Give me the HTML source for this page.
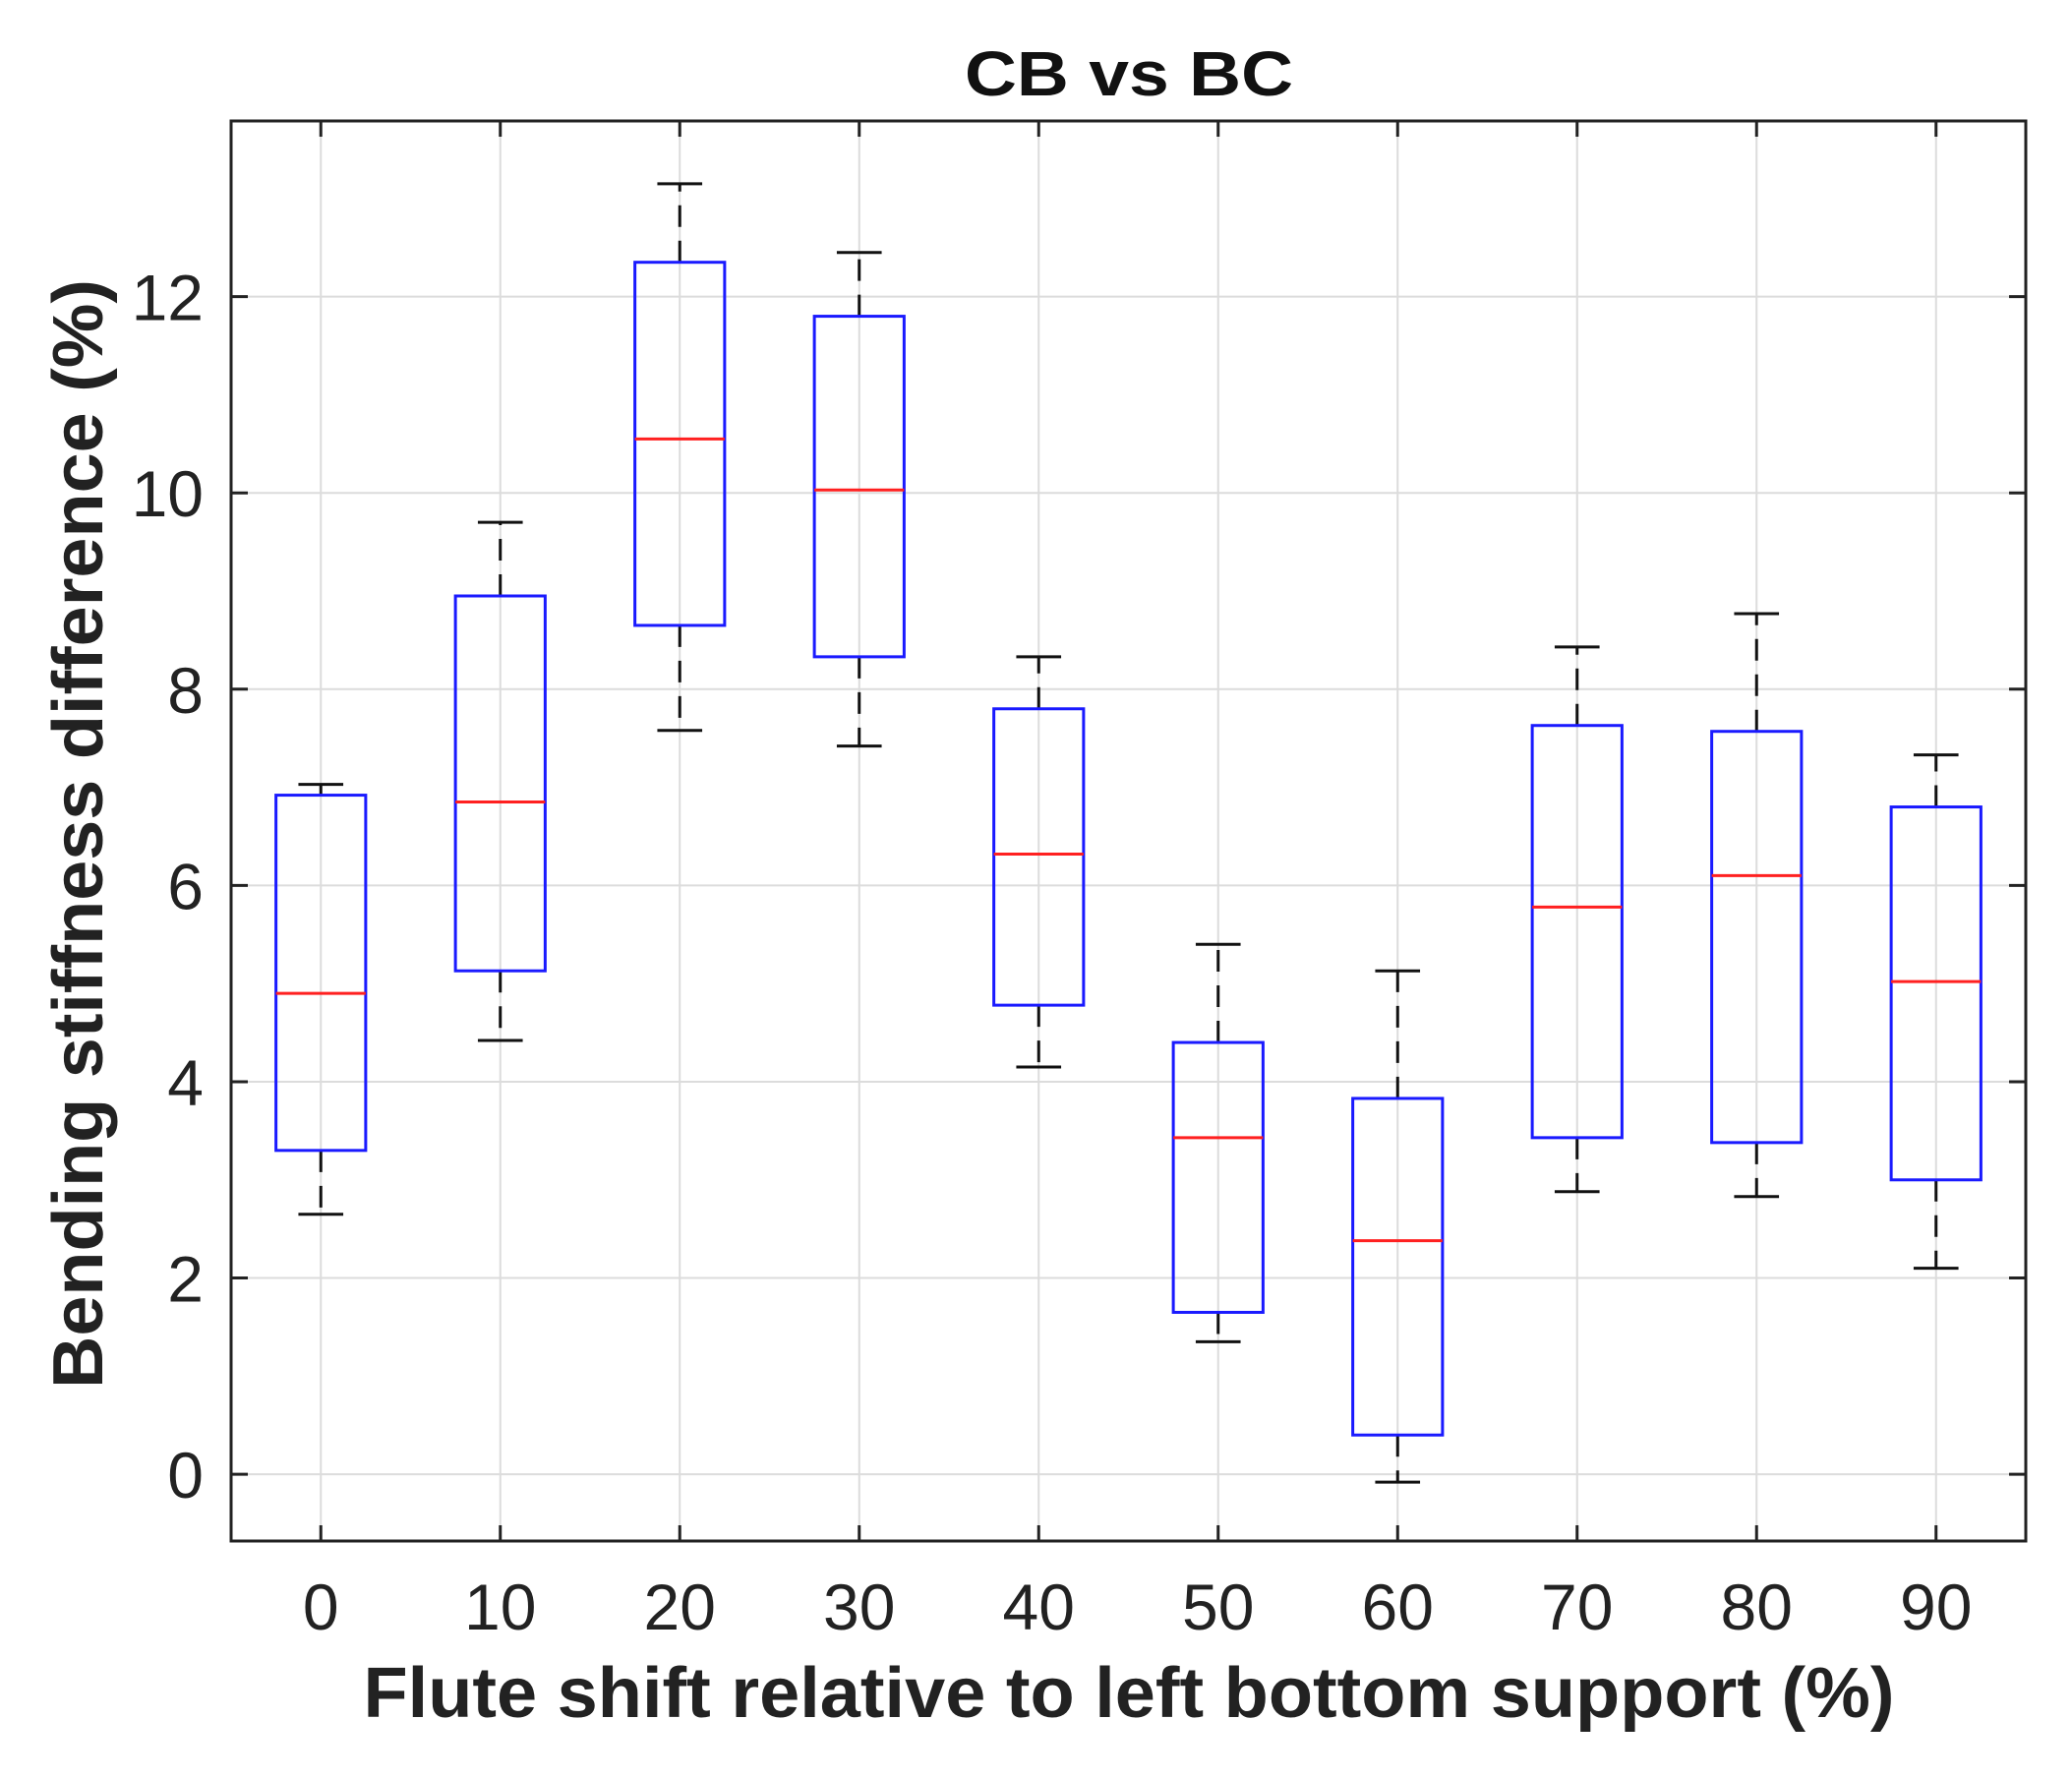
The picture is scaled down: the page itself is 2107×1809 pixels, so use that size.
<!DOCTYPE html>
<html><head><meta charset="utf-8"><style>html,body{margin:0;padding:0;background:#fff}svg{display:block}</style></head>
<body>
<svg id="chart" width="2107" height="1809" viewBox="0 0 2107 1809" xmlns="http://www.w3.org/2000/svg" font-family="'Liberation Sans', sans-serif">
<rect x="0" y="0" width="2107" height="1809" fill="#fff"/>
<g id="grid"></g>
<g id="marks"></g>
<g id="axes"></g>
<text x="1148" y="97" text-anchor="middle" font-weight="bold" font-size="64" fill="#111" textLength="334" lengthAdjust="spacingAndGlyphs">CB vs BC</text>
<text x="1148" y="1746" text-anchor="middle" font-weight="bold" font-size="72" fill="#222" textLength="1557" lengthAdjust="spacingAndGlyphs">Flute shift relative to left bottom support (%)</text>
<text transform="translate(104,848) rotate(-90)" x="0" y="0" text-anchor="middle" font-weight="bold" font-size="72" fill="#222" textLength="1128" lengthAdjust="spacingAndGlyphs">Bending stiffness difference (%)</text>
</svg>
<script>
const categories = ["0","10","20","30","40","50","60","70","80","90"];
const whiskerLow = [2.65,4.42,7.58,7.42,4.15,1.35,-0.08,2.88,2.83,2.1];
const q1 = [3.3,5.13,8.65,8.33,4.78,1.65,0.4,3.43,3.38,3.0];
const median = [4.9,6.85,10.55,10.03,6.32,3.43,2.38,5.78,6.1,5.02];
const q3 = [6.92,8.95,12.35,11.8,7.8,4.4,3.83,7.63,7.57,6.8];
const whiskerHigh = [7.03,9.7,13.15,12.45,8.33,5.4,5.13,8.43,8.77,7.33];
const yTicks = [0,2,4,6,8,10,12];

const L=235,R=2060,T=123,B=1567;
const yMin=-0.68,yMax=13.79;
const NS='http://www.w3.org/2000/svg';
function xPos(i){return L+(i+0.5)*(R-L)/categories.length;}
function yPos(v){return B-(v-yMin)/(yMax-yMin)*(B-T);}
const bw=(R-L)/categories.length*0.5;
function mk(parent,tag,attrs){const e=document.createElementNS(NS,tag);for(const k in attrs)e.setAttribute(k,attrs[k]);parent.appendChild(e);return e;}
const grid=document.getElementById('grid'),marks=document.getElementById('marks'),axes=document.getElementById('axes');
categories.forEach((c,i)=>{
  const g=mk(grid,'line',{x1:xPos(i),x2:xPos(i),y1:T,y2:B,stroke:'#dcdcdc','stroke-width':2});
  
  
});
yTicks.forEach(v=>{
  const g=mk(grid,'line',{x1:L,x2:R,y1:yPos(v),y2:yPos(v),stroke:'#dcdcdc','stroke-width':2});
  
  
});
categories.forEach((c,i)=>{
  const x=xPos(i);
  const grp=mk(marks,'g',{});
  
  
  const w1=mk(grp,'line',{x1:x,x2:x,y1:yPos(q3[i]),y2:yPos(whiskerHigh[i]),stroke:'#111','stroke-width':3,'stroke-dasharray':'22,14'});
  
  
  const w2=mk(grp,'line',{x1:x,x2:x,y1:yPos(q1[i]),y2:yPos(whiskerLow[i]),stroke:'#111','stroke-width':3,'stroke-dasharray':'22,14'});
  
  
  const c1=mk(grp,'line',{x1:x-bw/4,x2:x+bw/4,y1:yPos(whiskerHigh[i]),y2:yPos(whiskerHigh[i]),stroke:'#111','stroke-width':3});
  
  
  const c2=mk(grp,'line',{x1:x-bw/4,x2:x+bw/4,y1:yPos(whiskerLow[i]),y2:yPos(whiskerLow[i]),stroke:'#111','stroke-width':3});
  
  
  const r=mk(grp,'rect',{x:x-bw/2,y:yPos(q3[i]),width:bw,height:yPos(q1[i])-yPos(q3[i]),fill:'none',stroke:'#1a1aff','stroke-width':3});
  
  
  const m=mk(grp,'line',{x1:x-bw/2,x2:x+bw/2,y1:yPos(median[i]),y2:yPos(median[i]),stroke:'#ff2020','stroke-width':3});
  
  
  const lbl=mk(axes,'text',{x:x,y:1657,'text-anchor':'middle','font-size':66,fill:'#222'});
  lbl.textContent=c;
  
  
  [[B,B-16],[T,T+16]].forEach(p=>{
    const t=mk(axes,'line',{x1:x,x2:x,y1:p[0],y2:p[1],stroke:'#222','stroke-width':3});
    
    
  });
});
yTicks.forEach(v=>{
  const y=yPos(v);
  const lbl=mk(axes,'text',{x:207,y:y+24,'text-anchor':'end','font-size':66,fill:'#222'});
  lbl.textContent=String(v);
  
  
  [[L,L+17],[R,R-17]].forEach(p=>{
    const t=mk(axes,'line',{x1:p[0],x2:p[1],y1:y,y2:y,stroke:'#222','stroke-width':3});
    
    
  });
});
const frame=mk(axes,'rect',{x:L,y:T,width:R-L,height:B-T,fill:'none',stroke:'#222','stroke-width':3});


</script>
</body></html>
